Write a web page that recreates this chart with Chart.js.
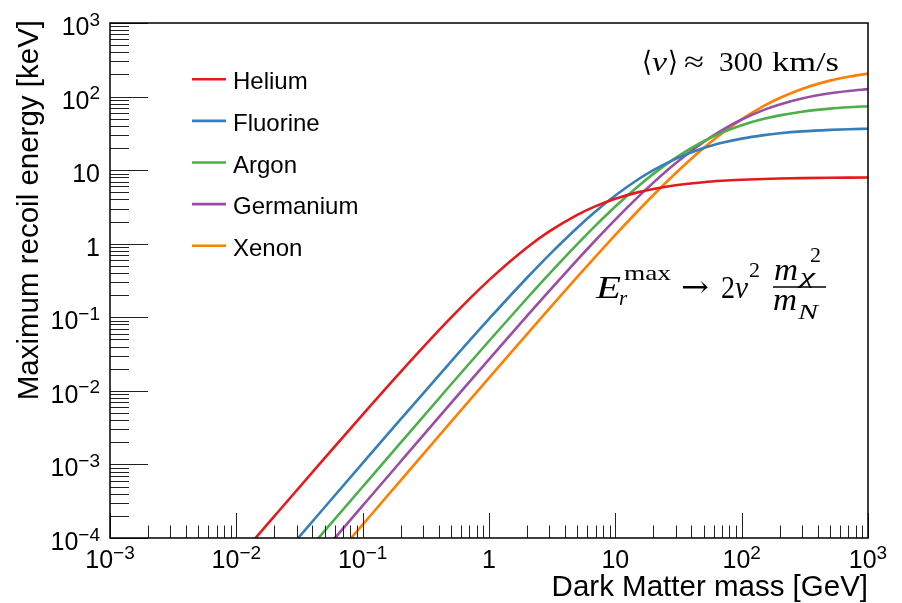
<!DOCTYPE html>
<html><head><meta charset="utf-8">
<script src="https://cdn.jsdelivr.net/npm/chart.js@4.4.0/dist/chart.umd.min.js"></script>
<style>html,body{margin:0;padding:0;background:#fff;overflow:hidden}</style>
</head><body>
<canvas id="c" width="902" height="603"></canvas>
<script>
// Dark matter mass [GeV] (sample points)
const masses = [0.01,0.02,0.05,0.1,0.2,0.5,1,2,3,5,7,10,15,20,30,50,70,100,150,200,300,500,700,1000];
// Maximum recoil energy [keV]
const helium    = [4.975e-5,1.980e-4,1.2193e-3,4.759e-3,0.018141,0.098765,0.32,0.8889,1.4694,2.4691,3.2397,4.0816,4.9861,5.5556,6.2284,6.8587,7.1585,7.3964,7.5898,7.6894,7.7908,7.8735,7.9093,7.9364];
const fluorine  = [1.0515e-5,4.2017e-5,2.6178e-4,1.04164e-3,4.1233e-3,0.024984,0.095,0.34467,0.70661,1.6493,2.7544,4.5184,7.3962,9.9934,14.244,19.954,23.507,26.834,29.936,31.692,33.608,35.269,36.018,36.596];
const argon     = [4.9975e-6,1.998e-5,1.2469e-4,4.975e-4,1.9801e-3,0.012193,0.047591,0.18141,0.38940,0.98765,1.7746,3.2,5.9504,8.8889,14.694,24.691,32.397,40.816,49.861,55.556,62.284,68.587,71.585,73.964];
const germanium = [2.754e-6,1.1013e-5,6.8776e-5,2.7472e-4,1.09589e-3,6.7931e-3,0.026805,0.10436,0.22865,0.60281,1.12288,2.12817,4.2574,6.7733,12.414,24.151,34.988,48.740,65.932,78.158,94.129,110.714,119.194,126.209];
const xenon     = [1.523e-6,6.091e-6,3.8052e-5,1.52091e-4,6.0744e-4,3.7792e-3,0.015003,0.059114,0.13104,0.35338,0.67274,1.31526,2.76053,4.58857,9.0838,19.973,31.754,49.084,74.669,95.700,127.051,164.727,186.198,205.182];

const seriesNames  = ['Helium','Fluorine','Argon','Germanium','Xenon'];
const seriesValues = [helium, fluorine, argon, germanium, xenon];
const seriesColors = ['#e41a1c','#377eb8','#4daf4a','#984ea3','#ff7f00'];

const xMajorTicks = [1e-3,1e-2,1e-1,1,10,100,1000];
const xTickLabels = [['10','\u22123'],['10','\u22122'],['10','\u22121'],['1',''],['10',''],['10','2'],['10','3']];
const yMajorTicks = [1e-4,1e-3,1e-2,1e-1,1,10,100,1000];
const yTickLabels = [['10','\u22124'],['10','\u22123'],['10','\u22122'],['10','\u22121'],['1',''],['10',''],['10','2'],['10','3']];
const xTitle = 'Dark Matter mass [GeV]';
const yTitle = 'Maximum recoil energy [keV]';

const SANS = '"Liberation Sans", Arial, Helvetica, sans-serif';
const SERIF = '"Liberation Serif", "Times New Roman", serif';

function powLabel(ctx, lab, x, y, align){
  ctx.font = '25px ' + SANS; const wb = ctx.measureText(lab[0]).width;
  ctx.font = '19px ' + SANS; const we = lab[1] ? ctx.measureText(lab[1]).width : 0;
  const tot = wb + we;
  const x0 = align === 'center' ? x - tot/2 : x - tot;
  ctx.textAlign = 'left'; ctx.textBaseline = 'alphabetic';
  ctx.font = '25px ' + SANS; ctx.fillText(lab[0], x0, y);
  if (lab[1]) { ctx.font = '19px ' + SANS; ctx.fillText(lab[1], x0 + wb, y - 9.5); }
}
function txt(ctx, s, x, y, font, w){
  ctx.font = font; ctx.textAlign = 'left'; ctx.textBaseline = 'alphabetic';
  if (w) {
    const mw = ctx.measureText(s).width;
    ctx.save(); ctx.translate(x, y); ctx.scale(w / mw, 1); ctx.fillText(s, 0, 0); ctx.restore();
  } else ctx.fillText(s, x, y);
}

const overlay = {
  id: 'overlay',
  afterDraw(chart){
    const ctx = chart.ctx, xs = chart.scales.x, ys = chart.scales.y, a = chart.chartArea;
    ctx.save();
    // inward ticks
    ctx.strokeStyle = '#222'; ctx.lineWidth = 1;
    ctx.beginPath();
    xMajorTicks.forEach(d => {
      for (let k = 1; k <= 9; k++) {
        const v = k * d; if (v > xs.max * 1.0001) break;
        const p = Math.round(xs.getPixelForValue(v)) + 0.5;
        const len = k === 1 ? 25 : 12.5;
        ctx.moveTo(p, a.bottom); ctx.lineTo(p, a.bottom - len);
      }
    });
    yMajorTicks.forEach(d => {
      for (let k = 1; k <= 9; k++) {
        const v = k * d; if (v > ys.max * 1.0001) break;
        const p = Math.round(ys.getPixelForValue(v)) + 0.5;
        const len = k === 1 ? 38 : 19;
        ctx.moveTo(a.left, p); ctx.lineTo(a.left + len, p);
      }
    });
    ctx.stroke();
    // frame
    ctx.strokeStyle = '#000'; ctx.lineWidth = 1.5;
    ctx.strokeRect(a.left, a.top, a.right - a.left, a.bottom - a.top);
    // tick labels
    ctx.fillStyle = '#000';
    xMajorTicks.forEach((v, i) => powLabel(ctx, xTickLabels[i], xs.getPixelForValue(v), 568, 'center'));
    yMajorTicks.forEach((v, i) => powLabel(ctx, yTickLabels[i], 100, ys.getPixelForValue(v) + 12, 'right'));
    // axis titles
    ctx.font = '29.5px ' + SANS; ctx.textAlign = 'right'; ctx.textBaseline = 'alphabetic';
    ctx.fillText(xTitle, a.right, 596);
    ctx.save(); ctx.translate(38, 20); ctx.rotate(-Math.PI/2);
    ctx.fillText(yTitle, 0, 0); ctx.restore();
    // legend
    chart.data.datasets.forEach((ds, i) => {
      const y = 79.3 + i * 41.6;
      ctx.strokeStyle = ds.borderColor; ctx.lineWidth = 2.6;
      ctx.beginPath(); ctx.moveTo(192, y); ctx.lineTo(226, y); ctx.stroke();
      ctx.fillStyle = '#000'; ctx.font = '24px ' + SANS; ctx.textAlign = 'left';
      ctx.fillText(ds.label, 233, y + 10);
    });
    // annotation: <v> ~ 300 km/s
    const F = '28px ' + SERIF, FI = 'italic 28px ' + SERIF;
    txt(ctx, '\u27E8', 642, 71, F, 10);
    txt(ctx, 'v', 652, 71, FI, 15);
    txt(ctx, '\u27E9', 668, 71, F, 10);
    txt(ctx, '\u2248', 684, 71, F, 20);
    txt(ctx, '300', 719, 71, F, 44);
    txt(ctx, 'km/s', 772, 71, F, 67);
    // formula E_r^max -> 2 v^2 m_chi^2 / m_N
    const B = 'italic 32px ' + SERIF, S = '22px ' + SERIF, SI = 'italic 21px ' + SERIF;
    txt(ctx, 'E', 596, 298, B, 25);
    txt(ctx, 'max', 624, 280, S, 47);
    txt(ctx, 'r', 619, 305, SI);
    txt(ctx, '\u2192', 681, 297, '30px "DejaVu Serif", serif', 28);
    txt(ctx, '2', 721, 298, '32px ' + SERIF, 14);
    txt(ctx, 'v', 735, 298, B, 13);
    txt(ctx, '2', 749, 277, S);
    ctx.strokeStyle = '#000'; ctx.lineWidth = 1.3;
    ctx.beginPath(); ctx.moveTo(773, 287); ctx.lineTo(826, 287); ctx.stroke();
    txt(ctx, 'm', 774, 280, B, 24);
    txt(ctx, '\u03C7', 800, 283, SI, 15);
    txt(ctx, '2', 810, 262, S);
    txt(ctx, 'm', 773, 310, B, 24);
    txt(ctx, 'N', 798, 319, SI, 20);
    ctx.restore();
  }
};

const datasets = seriesNames.map((n, i) => ({
  label: n,
  data: masses.map((m, j) => ({x: m, y: seriesValues[i][j]})),
  borderColor: seriesColors[i],
  backgroundColor: seriesColors[i],
  borderWidth: 2.6,
  pointRadius: 0,
  fill: false,
  cubicInterpolationMode: 'monotone',
  clip: 0
}));

new Chart(document.getElementById('c'), {
  type: 'line',
  data: { datasets },
  options: {
    responsive: false,
    devicePixelRatio: 1,
    animation: false,
    layout: { padding: { top: 23, right: 34, left: 0, bottom: 0 } },
    plugins: { legend: { display: false }, tooltip: { enabled: false } },
    scales: {
      x: {
        type: 'logarithmic', min: 1e-3, max: 1e3,
        grid: { display: false }, border: { display: false },
        ticks: { display: false },
        title: { display: false },
        afterFit: s => { s.height = 65; }
      },
      y: {
        type: 'logarithmic', min: 1e-4, max: 1e3,
        grid: { display: false }, border: { display: false },
        ticks: { display: false },
        title: { display: false },
        afterFit: s => { s.width = 110; }
      }
    }
  },
  plugins: [overlay]
});
</script>
</body></html>
